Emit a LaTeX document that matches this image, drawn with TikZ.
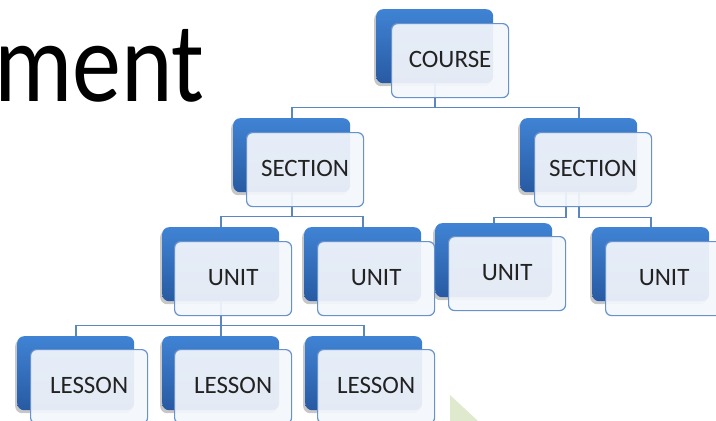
\documentclass[tikz,border=0pt]{standalone}
\usepackage{fontspec}
\setmainfont{Carlito}
\usetikzlibrary{shadows}
\definecolor{cardtop}{RGB}{64,131,212}
\definecolor{cardbot}{RGB}{40,90,162}
\definecolor{cardedge}{RGB}{104,146,204}
\definecolor{linkc}{RGB}{92,134,190}
\definecolor{cardface}{RGB}{244,247,252}
\definecolor{inkc}{RGB}{34,34,34}
\definecolor{tri}{RGB}{222,233,206}
\tikzset{
  backcard/.style={rectangle, rounded corners=7pt, minimum width=117pt, minimum height=74pt,
    inner sep=0pt, anchor=north west, top color=cardtop, bottom color=cardbot, draw=none,
    drop shadow={shadow xshift=-2pt, shadow yshift=-3pt, opacity=0.22, fill=black}},
  frontcard/.style={rectangle, rounded corners=6pt, minimum width=117pt, minimum height=74pt,
    inner sep=0pt, anchor=north west, draw=cardedge, line width=1.2pt, fill=cardface,
    fill opacity=0.92, draw opacity=1, text opacity=1},
  cardtext/.style={text=inkc, font=\fontsize{25}{25}\selectfont, inner sep=0pt},
  link/.style={draw=linkc, line width=1.8pt},
}
% back card: #1 name, #2,#3 top-left
\newcommand{\mybackcard}[3]{\node[backcard] (#1-b) at (#2,#3) {};}
% front card: #1 name, #2,#3 top-left, #4 text
\newcommand{\myfrontcard}[4]{%
  \node[frontcard] (#1) at (#2,#3) {};
  \node[cardtext] (#1-t) at ([yshift=1pt]#1.center) {#4};
}
\begin{document}
\begin{tikzpicture}[x=1pt,y=-1pt]
\useasboundingbox (0,0) rectangle (716,421);
\clip (0,0) rectangle (716,421);
\fill[white] (0,0) rectangle (716,421);
% title fragment
\node[anchor=base west, inner sep=0pt, font=\fontsize{114}{114}\selectfont] (title) at (-6,101) {\scalebox{0.86}[1]{ment}};
% faint green shape
\fill[tri] (450,395) -- (478,421) -- (450,421) -- cycle;
% back cards
\mybackcard{course}{376}{9}
\mybackcard{secL}{233}{118}
\mybackcard{secR}{520}{118}
\mybackcard{uA}{162}{227}
\mybackcard{uB}{304}{227}
\mybackcard{uC}{435}{223}
\mybackcard{uD}{592}{227}
\mybackcard{lA}{17}{336}
\mybackcard{lB}{162}{336}
\mybackcard{lC}{305}{336}
% connectors
\draw[link] (course-b.south) -- ++(0,24) -| (secL-b.north);
\draw[link] (course-b.south) -- ++(0,24) -| (secR-b.north);
\draw[link] (secL-b.south) -- ++(0,24) -| (uA-b.north);
\draw[link] (secL-b.south) -- ++(0,24) -| (uB-b.north);
\draw[link] ([xshift=-13pt]secR-b.south) -- ++(0,25) -| (uC-b.north);
\draw[link] (secR-b.south) -- ++(0,25) -| (uD-b.north);
\draw[link] (uA-b.south) -- ++(0,24) -| (lA-b.north);
\draw[link] (uA-b.south) -- ++(0,24) -| (lB-b.north);
\draw[link] (uA-b.south) -- ++(0,24) -| (lC-b.north);
% front cards
\myfrontcard{course}{391}{23}{COURSE}
\myfrontcard{secL}{246}{132}{SECTION}
\myfrontcard{secR}{534}{132}{SECTION}
\myfrontcard{uA}{174}{241}{UNIT}
\myfrontcard{uB}{317}{241}{UNIT}
\myfrontcard{uC}{448}{236}{UNIT}
\myfrontcard{uD}{605}{241}{UNIT}
\myfrontcard{lA}{30}{349}{LESSON}
\myfrontcard{lB}{174}{349}{LESSON}
\myfrontcard{lC}{317}{349}{LESSON}
\end{tikzpicture}
\end{document}
